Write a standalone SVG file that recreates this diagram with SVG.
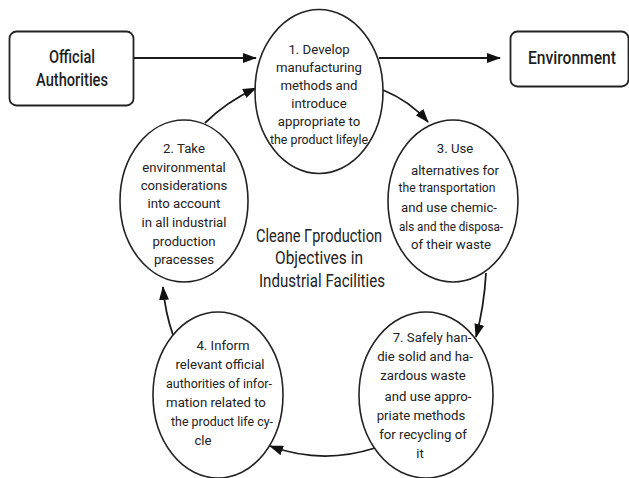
<svg xmlns="http://www.w3.org/2000/svg" width="629" height="478" viewBox="0 0 629 478">
<defs>
<style>
.box{fill:#fff;stroke:#222;stroke-width:1.8}
.el{fill:#fff;stroke:#222;stroke-width:1.6}
.t{font-family:Roboto,"Liberation Sans",sans-serif;font-size:13.2px;fill:#222;text-anchor:middle}
.h{font-family:Roboto,"Liberation Sans",sans-serif;font-size:18px;font-weight:500;fill:#1e1e1e;text-anchor:middle}
.c{font-family:Roboto,"Liberation Sans",sans-serif;font-size:18px;fill:#222;text-anchor:middle}
.cn{fill:none;stroke:#1a1a1a;stroke-width:1.8}
</style>
<marker id="ah" viewBox="0 0 14 10" refX="13" refY="5" markerWidth="14" markerHeight="10" markerUnits="userSpaceOnUse" orient="auto">
<path d="M0,0 L14,5 L0,10 Z" fill="#111"/>
</marker>
</defs>
<rect width="629" height="478" fill="#fff"/>
<g id="connectors">
<path class="cn" d="M134,58 L256,58" marker-end="url(#ah)"/>
<path class="cn" d="M379,58 L500,58" marker-end="url(#ah)"/>
<path class="cn" d="M383,90 Q410,101 428,122" marker-end="url(#ah)"/>
<path class="cn" d="M486,273 Q484,307 476,337" marker-end="url(#ah)"/>
<path class="cn" d="M375,448 Q322,465 270,446" marker-end="url(#ah)"/>
<path class="cn" d="M173,335 Q165,312 163,287" marker-end="url(#ah)"/>
<path class="cn" d="M205,123 Q226,102 256,88" marker-end="url(#ah)"/>
</g>
<g id="official-authorities">
<rect class="box" x="9.5" y="31.5" width="124" height="74" rx="7"/>
<text class="h" x="72" y="63" textLength="46" lengthAdjust="spacingAndGlyphs">Official</text>
<text class="h" x="72" y="86" textLength="72" lengthAdjust="spacingAndGlyphs">Authorities</text>
</g>
<g id="environment">
<rect class="box" x="510.5" y="31.5" width="118" height="55" rx="7"/>
<text class="h" x="572" y="64" textLength="88" lengthAdjust="spacingAndGlyphs">Environment</text>
</g>
<g id="node1">
<ellipse class="el" cx="319" cy="91.5" rx="64" ry="82"/>
<text class="t" x="319" y="54">1. Develop</text>
<text class="t" x="319" y="72">manufacturing</text>
<text class="t" x="319" y="90">methods and</text>
<text class="t" x="319" y="108">introduce</text>
<text class="t" x="319" y="126">appropriate to</text>
<text class="t" x="319" y="144" textLength="98" lengthAdjust="spacingAndGlyphs">the product lifeyle</text>
</g>
<g id="node2">
<ellipse class="el" cx="184" cy="201" rx="64" ry="81"/>
<text class="t" x="184" y="153">2. Take</text>
<text class="t" x="184" y="172">environmental</text>
<text class="t" x="184" y="190">considerations</text>
<text class="t" x="184" y="208">into account</text>
<text class="t" x="184" y="227">in all industrial</text>
<text class="t" x="184" y="246">production</text>
<text class="t" x="184" y="264">pracesses</text>
</g>
<g id="node3">
<ellipse class="el" cx="453" cy="201" rx="65" ry="81"/>
<text class="t" x="455" y="153">3. Use</text>
<text class="t" x="455" y="175">alternatives for</text>
<text class="t" x="447" y="192" textLength="97" lengthAdjust="spacingAndGlyphs">the transportation</text>
<text class="t" x="449" y="212">and use chemic-</text>
<text class="t" x="451" y="231" textLength="104" lengthAdjust="spacingAndGlyphs">als and the disposa-</text>
<text class="t" x="451" y="249">of their waste</text>
</g>
<g id="node7">
<ellipse class="el" cx="426" cy="395" rx="67" ry="83"/>
<text class="t" x="432" y="342">7. Safely han-</text>
<text class="t" x="425" y="361">die solid and ha-</text>
<text class="t" x="423" y="380">zardous waste</text>
<text class="t" x="428" y="401">and use appro-</text>
<text class="t" x="421" y="420">priate methods</text>
<text class="t" x="423" y="439">for recycling of</text>
<text class="t" x="420" y="458">it</text>
</g>
<g id="node4">
<ellipse class="el" cx="218" cy="395" rx="65" ry="83"/>
<text class="t" x="223" y="350">4. Inform</text>
<text class="t" x="220" y="369">relevant official</text>
<text class="t" x="219" y="388" textLength="106" lengthAdjust="spacingAndGlyphs">authorities of infor-</text>
<text class="t" x="216" y="407">mation related to</text>
<text class="t" x="222" y="426" textLength="102" lengthAdjust="spacingAndGlyphs">the product life cy-</text>
<text class="t" x="203" y="445">cle</text>
</g>
<g id="title">
<text class="c" x="319" y="242" textLength="126" lengthAdjust="spacingAndGlyphs">Cleane Γproduction</text>
<text class="c" x="319" y="264" textLength="88" lengthAdjust="spacingAndGlyphs">Objectives in</text>
<text class="c" x="322" y="287" textLength="126" lengthAdjust="spacingAndGlyphs">Industrial Facilities</text>
</g>
</svg>
